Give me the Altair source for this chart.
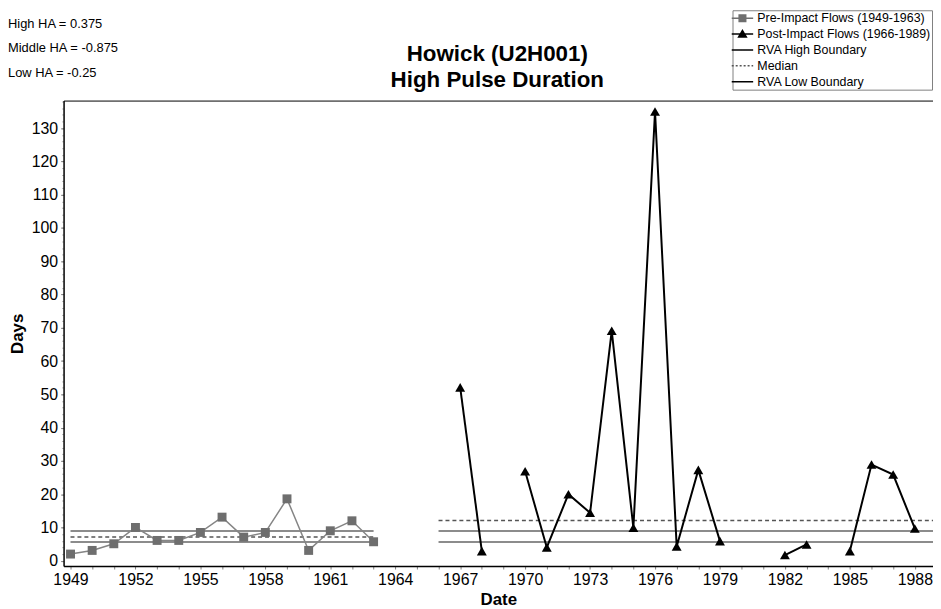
import altair as alt
import pandas as pd

FONT = "Liberation Sans"

# ---------------- data ----------------
pre_years = list(range(1949, 1964))
pre_days = [2.0, 3.1, 5.1, 10.0, 6.1, 6.1, 8.5, 13.1, 7.1, 8.5, 18.6, 3.1, 9.0, 12.0, 5.7]

post_years = [1967, 1968, 1970, 1971, 1972, 1973, 1974, 1975, 1976, 1977, 1978, 1979,
              1982, 1983, 1985, 1986, 1987, 1988]
post_days = [52.1, 2.9, 26.9, 4.0, 20.0, 14.4, 69.1, 9.9, 135.0, 4.3, 27.3, 5.9,
             1.7, 4.9, 2.9, 28.9, 25.9, 9.7]
post_segment = [1, 1, 2, 2, 2, 2, 2, 2, 2, 2, 2, 2, 3, 3, 4, 4, 4, 4]

period_start = [1949, 1966]
period_end = [1963, 1989]
rva_high = [8.9, 8.9]
rva_low = [5.6, 5.6]
medians = [7.1, 12.1]

title_lines = ["Howick (U2H001)", "High Pulse Duration"]
ha_names = ["High HA", "Middle HA", "Low HA"]
ha_values = ["0.375", "-0.875", "-0.25"]

legend_labels = ["Pre-Impact Flows (1949-1963)", "Post-Impact Flows (1966-1989)",
                 "RVA High Boundary", "Median", "RVA Low Boundary"]
legend_colors = ["#6e6e6e", "#000000", "#000000", "#555555", "#000000"]
LINE = "M-1.8,0H1.8"
legend_shapes = [LINE + "M-0.55,-0.55H0.55V0.55H-0.55Z",
                 LINE + "M0,-0.6L0.65,0.5H-0.65Z",
                 LINE, LINE, LINE]
legend_dashes = [[1, 0], [1, 0], [1, 0], [2, 2], [1, 0]]

tick_years = list(range(1949, 1989))
y_ticks = list(range(0, 140, 10))
y_minor_ticks = list(range(0, 139, 2))

# ---------------- tables ----------------
pre_df = pd.DataFrame({"year": pre_years, "days": pre_days})
post_df = pd.DataFrame({"year": post_years, "days": post_days, "seg": post_segment})
bounds_df = pd.DataFrame({
    "start": period_start + period_start,
    "end": period_end + period_end,
    "value": rva_high + rva_low,
})
med_df = pd.DataFrame({"start": period_start, "end": period_end, "value": medians})
legend_df = pd.DataFrame({"series": legend_labels})
ha_df = pd.DataFrame({"t": ["\n".join(f"{n} = {v}" for n, v in zip(ha_names, ha_values))]})
title_df = pd.DataFrame({"t": ["\n".join(title_lines)]})

xs = alt.Scale(domain=[1948.68, 1988.84], nice=False, zero=False)
ys = alt.Scale(domain=[-1.6, 138.3], nice=False, zero=False)

x_axis = alt.Axis(values=tick_years, format="d",
                  labelExpr="(datum.value - 1949) % 3 == 0 ? datum.label : ''",
                  tickSize=3, tickColor="#808080", tickWidth=1,
                  domainColor="black", domainWidth=1.5,
                  labelFontSize=16, labelPadding=3, labelOverlap=False, labelFlush=False,
                  labelColor="black", labelFont=FONT,
                  title="Date", titleFontSize=17, titleFontWeight="bold", titleFont=FONT,
                  titleX=438, titleY=34, titleAlign="center", titleBaseline="middle",
                  grid=False, orient="bottom")
top_axis = alt.Axis(orient="top", labels=False, ticks=False, title=None,
                    domainColor="black", domainWidth=1, grid=False)
y_axis = alt.Axis(values=y_ticks, tickSize=3, tickColor="#808080",
                  domainColor="black", domainWidth=1.5,
                  labelFontSize=16, labelPadding=3, labelColor="black", labelFont=FONT,
                  labelOverlap=False, labelFlush=False,
                  title="Days", titleFontSize=17, titleFontWeight="bold", titleFont=FONT,
                  titleX=-46, titleY=234.5, titleAngle=270, titleAlign="center",
                  titleBaseline="middle", grid=False, orient="left")
y_minor_axis = alt.Axis(values=y_minor_ticks, orient="left", labels=False, domain=False,
                        tickSize=2, tickColor="#b8b8b8", tickWidth=1, title=None, grid=False)

bounds = alt.Chart(bounds_df).mark_rule(color="#666666", strokeWidth=1.5, clip=True).encode(
    x=alt.X("start:Q", scale=xs, axis=top_axis), x2="end:Q",
    y=alt.Y("value:Q", scale=ys, axis=y_minor_axis),
)
meds = alt.Chart(med_df).mark_rule(color="#555555", strokeWidth=1.5, strokeDash=[4, 3], clip=True).encode(
    x=alt.X("start:Q", scale=xs, axis=None), x2="end:Q",
    y=alt.Y("value:Q", scale=ys, axis=None),
)
pre_line = alt.Chart(pre_df).mark_line(color="#858585", strokeWidth=1.5).encode(
    x=alt.X("year:Q", scale=xs, axis=x_axis),
    y=alt.Y("days:Q", scale=ys, axis=y_axis),
)
pre_pts = alt.Chart(pre_df).mark_point(shape="square", filled=True, size=81,
                                       color="#6e6e6e", opacity=1).encode(
    x=alt.X("year:Q", scale=xs, axis=None),
    y=alt.Y("days:Q", scale=ys, axis=None),
)
post_line = alt.Chart(post_df).mark_line(color="black", strokeWidth=2).encode(
    x=alt.X("year:Q", scale=xs, axis=None),
    y=alt.Y("days:Q", scale=ys, axis=None),
    detail="seg:N",
)
post_pts = alt.Chart(post_df).mark_point(shape="triangle-up", filled=True, size=100,
                                         color="black", opacity=1).encode(
    x=alt.X("year:Q", scale=xs, axis=None),
    y=alt.Y("days:Q", scale=ys, axis=None),
)
leg = alt.Legend(title=None)
legend_layer = alt.Chart(legend_df).mark_point(filled=True, opacity=0).encode(
    fill=alt.Fill("series:N", scale=alt.Scale(domain=legend_labels, range=legend_colors), legend=leg),
    stroke=alt.Stroke("series:N", scale=alt.Scale(domain=legend_labels, range=legend_colors), legend=leg),
    shape=alt.Shape("series:N", scale=alt.Scale(domain=legend_labels, range=legend_shapes), legend=leg),
    strokeDash=alt.StrokeDash("series:N", scale=alt.Scale(domain=legend_labels, range=legend_dashes), legend=leg),
)
ha_text = alt.Chart(ha_df).mark_text(align="left", baseline="middle", fontSize=13, font=FONT,
                                     lineBreak="\n", lineHeight=25, color="black").encode(
    x=alt.value(-56), y=alt.value(-77.5), text="t:N",
)
title_text = alt.Chart(title_df).mark_text(align="center", baseline="middle", fontSize=22.5, font=FONT,
                                           fontWeight="bold", lineBreak="\n", lineHeight=26,
                                           color="black").encode(
    x=alt.value(437), y=alt.value(-47), text="t:N",
)

chart = alt.layer(bounds, meds, pre_line, pre_pts, post_line, post_pts, legend_layer,
                  ha_text, title_text).resolve_scale(
    x="shared", y="shared"
).resolve_axis(x="independent", y="independent").properties(
    width=876, height=469,
    padding={"left": 56, "top": 91, "right": 0, "bottom": 41},
    autosize=alt.AutoSizeParams(type="none"),
).configure_view(stroke=None).configure_legend(
    orient="none", legendX=674, legendY=-91, padding=1, rowPadding=2,
    labelFont=FONT, labelFontSize=12.5, labelColor="black", labelLimit=400,
    symbolSize=144, symbolStrokeWidth=1.5, symbolOffset=2, labelOffset=8,
    symbolOpacity=1, strokeColor="#808080", fillColor="white",
)

chart.save("out.html", embed_options={"renderer": "svg", "actions": False})
